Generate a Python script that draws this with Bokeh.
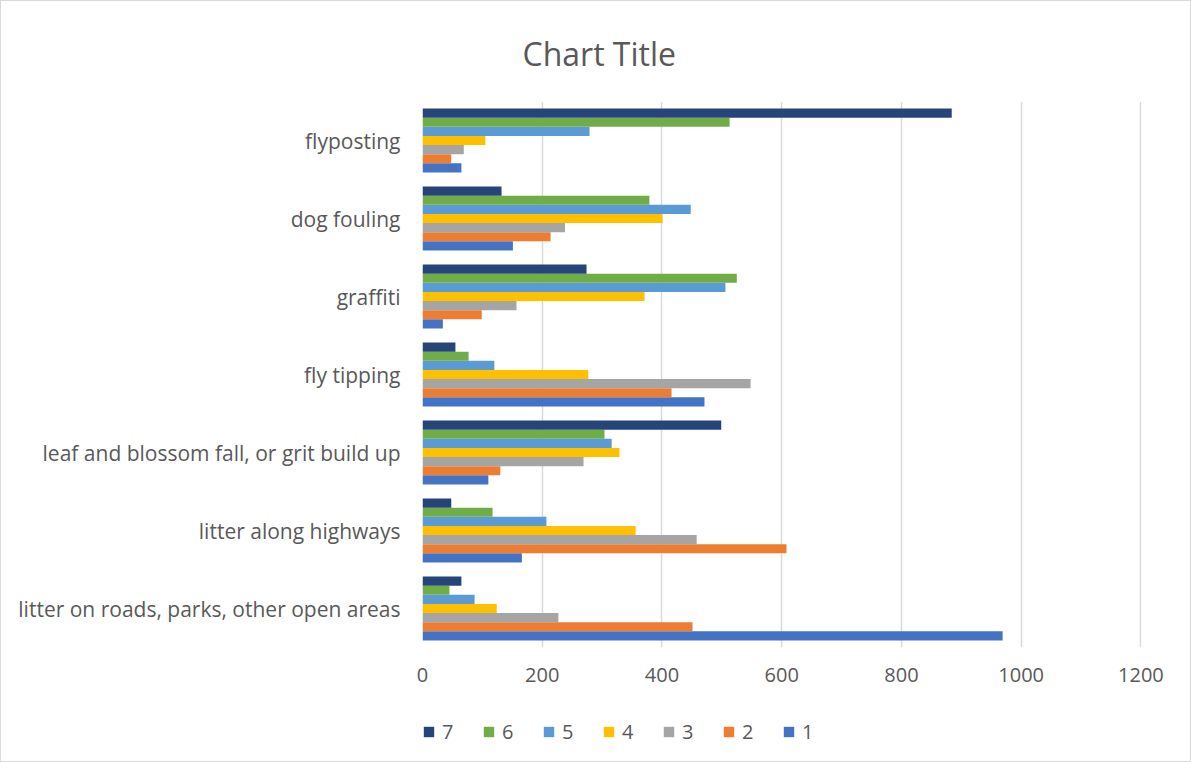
from bokeh.plotting import figure
from bokeh.models import (ColumnDataSource, FactorRange, Range1d, Legend, LegendItem,
                          FixedTicker)
from bokeh.layouts import column
from bokeh.transform import dodge
from bokeh.embed import file_html
from bokeh.resources import INLINE

categories = [
    "litter on roads, parks, other open areas",
    "litter along highways",
    "leaf and blossom fall, or grit build up",
    "fly tipping",
    "graffiti",
    "dog fouling",
    "flyposting",
]
series_names = ["1", "2", "3", "4", "5", "6", "7"]
s1 = [969, 166, 110, 471, 34, 151, 65]
s2 = [451, 608, 130, 416, 99, 214, 48]
s3 = [227, 458, 269, 548, 157, 238, 69]
s4 = [124, 356, 329, 277, 371, 401, 105]
s5 = [87, 207, 316, 120, 506, 448, 279]
s6 = [45, 117, 304, 77, 525, 379, 513]
s7 = [65, 48, 499, 55, 274, 132, 884]
x_ticks = [0, 200, 400, 600, 800, 1000, 1200]

colors = ["#4472C4", "#ED7D31", "#A5A5A5", "#FFC000", "#5B9BD5", "#70AD47", "#264478"]
values = [s1, s2, s3, s4, s5, s6, s7]

data = {"cat": categories}
for name, vals in zip(series_names, values):
    data["s" + name] = vals
source = ColumnDataSource(data)

FONT = "Open Sans"
TXT = "#595959"

p = figure(
    width=1189, height=699,
    y_range=FactorRange(*categories),
    x_range=Range1d(0, 1201),
    output_backend="svg", toolbar_location=None,
    min_border_left=421, min_border_right=49,
    min_border_top=100, min_border_bottom=53,
    title="Chart Title",
)
p.title.align = "left"
p.title.offset = 100
p.title.text_font = FONT
p.title.text_font_size = "32px"
p.title.text_font_style = "normal"
p.title.text_color = TXT
p.title.standoff = 54

p.outline_line_color = None
p.background_fill_color = "white"
p.border_fill_color = "white"

h = 0.117
renderers = []
for i, name in enumerate(series_names):
    off = (i - 3) * h
    r = p.hbar(y=dodge("cat", off, range=p.y_range), right="s" + name, left=0,
               height=h, source=source, fill_color=colors[i], line_color=None)
    renderers.append(r)

p.ygrid.grid_line_color = None
p.xgrid.grid_line_color = "#d9d9d9"
p.xgrid.grid_line_width = 1.5
p.xaxis.ticker = FixedTicker(ticks=x_ticks)

for ax in (p.xaxis[0], p.yaxis[0]):
    ax.axis_line_color = None
    ax.major_tick_line_color = None
    ax.minor_tick_line_color = None
    ax.major_tick_out = 0
    ax.major_tick_in = 0
    ax.major_label_text_font = FONT
    ax.major_label_text_color = TXT
p.xaxis.major_label_text_font_size = "20px"
p.yaxis.major_label_text_font_size = "21px"
p.xaxis.major_label_standoff = 20
p.yaxis.major_label_standoff = 22

# legend strip below the chart (proxy glyphs of zero size, legend swatches only)
lg = figure(width=1189, height=61, x_range=Range1d(0, 1), y_range=Range1d(0, 1),
            output_backend="svg", toolbar_location=None,
            min_border_left=0, min_border_right=0, min_border_top=0, min_border_bottom=0)
lg.axis.visible = False
lg.grid.visible = False
lg.outline_line_color = None
lg.border_fill_color = "white"
lg.background_fill_color = "white"

legend_renderers = {}
for i, name in enumerate(series_names):
    legend_renderers[name] = lg.hbar(y=0, left=0, right=0, height=0, source=source,
                                     fill_color=colors[i], line_color=None)

items = [LegendItem(label=name, renderers=[legend_renderers[name]])
         for name in reversed(series_names)]
legend = Legend(items=items, orientation="horizontal", location=(0, 16),
                glyph_width=13, glyph_height=13, label_standoff=7, spacing=28,
                label_width=12,
                padding=0, margin=0, border_line_color=None,
                background_fill_alpha=0,
                label_text_font=FONT, label_text_font_size="20px", label_text_color=TXT)
lg.add_layout(legend, "center")

layout = column(p, lg, styles={"border": "1px solid #d9d9d9"})
open("out.html", "w").write(file_html(layout, INLINE))
